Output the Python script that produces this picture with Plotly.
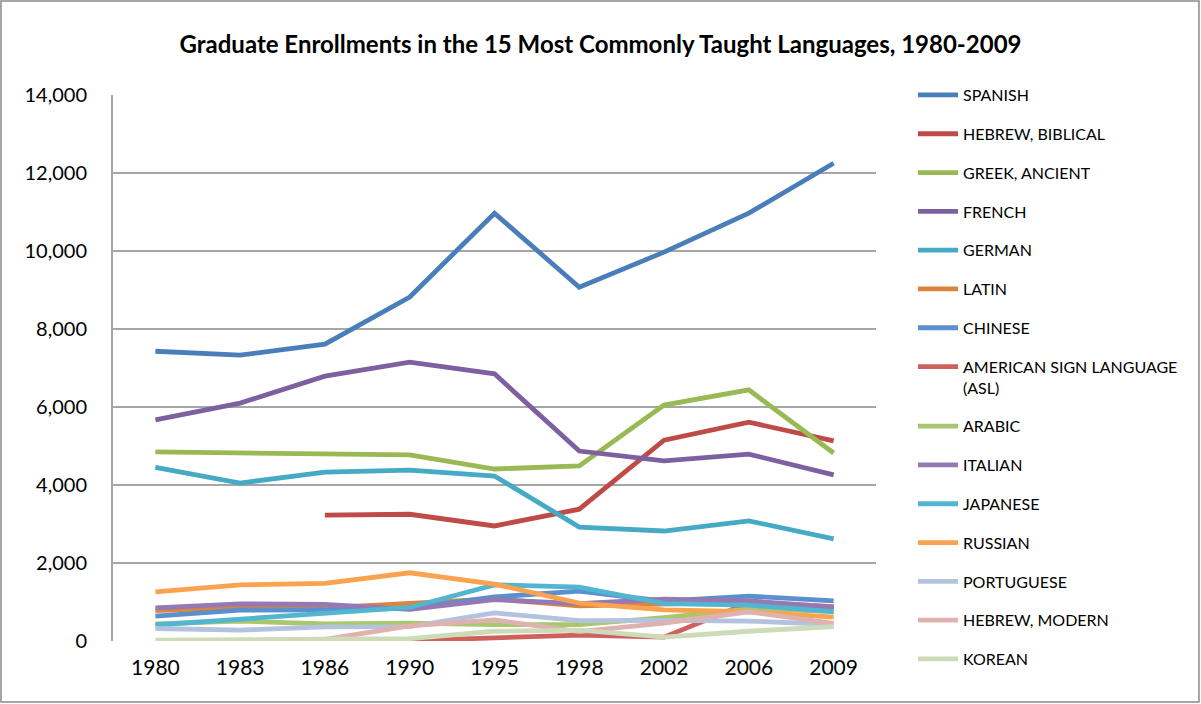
import plotly.graph_objects as go

years = ["1980", "1983", "1986", "1990", "1995", "1998", "2002", "2006", "2009"]

spanish = [7430, 7330, 7610, 8820, 10970, 9070, 9970, 10970, 12250]
hebrew_biblical = [None, None, 3230, 3250, 2950, 3380, 5150, 5610, 5130]
greek_ancient = [4850, 4820, 4790, 4770, 4410, 4490, 6050, 6440, 4820]
french = [5670, 6100, 6790, 7150, 6850, 4870, 4620, 4790, 4260]
german = [4450, 4050, 4330, 4380, 4230, 2920, 2820, 3080, 2620]
latin = [780, 860, 850, 980, 1080, 900, 960, 1000, 880]
chinese = [640, 790, 800, 840, 1130, 1280, 1020, 1150, 1030]
asl = [None, None, None, 10, 70, 150, 100, 980, 840]
arabic = [440, 510, 440, 460, 420, 420, 600, 820, 760]
italian = [850, 950, 940, 810, 1060, 960, 1070, 1030, 870]
japanese = [410, 550, 710, 860, 1440, 1380, 960, 920, 750]
russian = [1260, 1440, 1480, 1750, 1460, 970, 800, 750, 610]
portuguese = [320, 280, 360, 370, 720, 520, 530, 510, 430]
hebrew_modern = [None, None, 40, 390, 540, 240, 460, 750, 450]
korean = [20, 50, 50, 60, 250, 280, 100, 250, 370]

series_names = ["SPANISH", "HEBREW, BIBLICAL", "GREEK, ANCIENT", "FRENCH", "GERMAN",
                "LATIN", "CHINESE", "AMERICAN SIGN LANGUAGE<br>(ASL)", "ARABIC", "ITALIAN",
                "JAPANESE", "RUSSIAN", "PORTUGUESE", "HEBREW, MODERN", "KOREAN"]
series_values = [spanish, hebrew_biblical, greek_ancient, french, german, latin, chinese,
                 asl, arabic, italian, japanese, russian, portuguese, hebrew_modern, korean]
colors = ["#4A7EBB", "#BE4B48", "#98B954", "#7D60A0", "#46AAC5", "#DB843D", "#5B8FCD",
          "#CF615D", "#A9C76E", "#9479B5", "#52B6D0", "#F9A350", "#B3C3DE", "#DFB1AF", "#CDDBB8"]

y_ticks = [0, 2000, 4000, 6000, 8000, 10000, 12000, 14000]

fig = go.Figure()
for i, (name, vals, col) in enumerate(zip(series_names, series_values, colors)):
    fig.add_trace(go.Scatter(
        x=years, y=vals, name=name, mode="lines",
        line=dict(color=col, width=4.8),
        legendgroup=f"g{i}",
        connectgaps=False,
    ))

font_family = "Lato, 'Open Sans', sans-serif"

fig.update_layout(
    width=1201, height=704,
    margin=dict(l=113, r=325, t=95, b=63),
    paper_bgcolor="white", plot_bgcolor="white",
    title=dict(text="<b>Graduate Enrollments in the 15 Most Commonly Taught Languages, 1980-2009</b>",
               x=0.5, xanchor="center", y=0.936, yanchor="middle",
               font=dict(family=font_family, size=24, color="black")),
    font=dict(family=font_family, color="black"),
    showlegend=True,
    legend=dict(x=1.0485, y=1.031, xanchor="left", yanchor="top",
                font=dict(family=font_family, size=16, color="black"),
                tracegroupgap=15, itemwidth=40, valign="top",
                maxheight=700,
                bgcolor="rgba(0,0,0,0)"),
    xaxis=dict(type="category", showgrid=False, zeroline=False,
               showline=False, ticks="", tickfont=dict(size=21),
               ticklabelstandoff=12,
               range=[-0.5, 8.5]),
    yaxis=dict(range=[0, 14000], tickvals=y_ticks, tickformat=",",
               showgrid=True, gridcolor="#A6A6A6", gridwidth=2,
               zeroline=False, showline=True, linecolor="#A6A6A6", linewidth=2,
               ticks="", tickfont=dict(size=20), ticklabelstandoff=20),
)

fig.add_shape(type="rect", xref="paper", yref="paper",
              x0=-0.1468, x1=1.4233, y0=-0.1117, y1=1.1722,
              line=dict(color="#898989", width=1.5), layer="below")

fig.write_html("out.html", config={"displayModeBar": False},
               post_script="document.body.style.margin='0';document.body.style.overflow='hidden';")
